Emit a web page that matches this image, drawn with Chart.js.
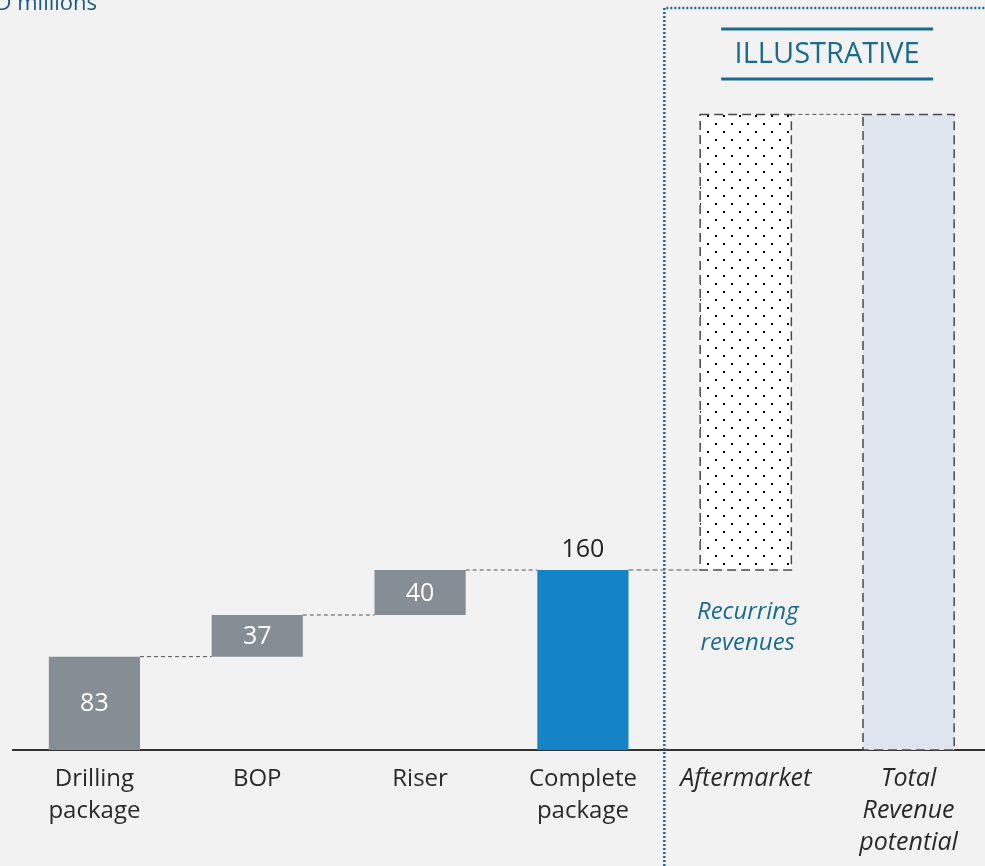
<!DOCTYPE html>
<html>
<head>
<meta charset="utf-8">
<script src="https://cdn.jsdelivr.net/npm/chart.js@4.4.1/dist/chart.umd.min.js"></script>
<style>
  html, body { margin: 0; padding: 0; background: #f2f2f2; overflow: hidden; }
  #wrap { width: 990px; height: 866px; }
</style>
</head>
<body>
<div id="wrap"><canvas id="cascada" width="990" height="866"></canvas></div>
<script>
// Categorías y valores (USD millones)
const categorias = [['Drilling', 'package'], 'BOP', 'Riser', ['Complete', 'package'], 'Aftermarket', ['Total', 'Revenue', 'potential']];
const valores = [83, 37, 40, 160, 405, 565];
const etiquetas = ['83', '37', '40', '160', '', ''];
// 'paso' suma sobre el anterior, 'total' arranca desde cero
const tipos = ['paso', 'paso', 'paso', 'total', 'paso', 'total'];

const FUENTE = "'Open Sans', sans-serif";
const GRIS = '#858e94';
const AZUL = '#1484c6';
const AZUL_OSCURO = '#1b6a91';

// Construir los tramos flotantes [inicio, fin]
let acumulado = 0;
const tramos = valores.map((v, i) => {
  if (tipos[i] === 'total') { acumulado = v; return [0, v]; }
  const inicio = acumulado;
  acumulado += v;
  return [inicio, acumulado];
});

// Trama de puntos para la barra de Aftermarket
function tramaPuntos() {
  const c = document.createElement('canvas');
  c.width = 16; c.height = 16;
  const g = c.getContext('2d');
  g.fillStyle = '#ffffff';
  g.fillRect(0, 0, 16, 16);
  g.fillStyle = '#000000';
  g.fillRect(3, 3, 2, 2);
  g.fillRect(11, 11, 2, 2);
  return g.createPattern(c, 'repeat');
}

const colores = [GRIS, GRIS, GRIS, AZUL, tramaPuntos(), '#dfe5ef'];

const extras = {
  id: 'extras',
  beforeDatasetsDraw(chart) {
    const ctx = chart.ctx;
    const x = chart.scales.x;
    // Título (parcialmente fuera del lienzo)
    ctx.save();
    ctx.font = '22px ' + FUENTE;
    ctx.fillStyle = '#1d5a80';
    ctx.textAlign = 'right';
    ctx.textBaseline = 'alphabetic';
    ctx.fillText('USD millions', 97, 10);
    ctx.restore();

    // Recuadro punteado de la zona ilustrativa
    const xDiv = (x.getPixelForValue(3) + x.getPixelForValue(4)) / 2;
    ctx.save();
    ctx.strokeStyle = AZUL_OSCURO;
    ctx.lineWidth = 2.5;
    ctx.setLineDash([2, 2]);
    ctx.beginPath();
    ctx.moveTo(xDiv, chart.height);
    ctx.lineTo(xDiv, 8);
    ctx.lineTo(chart.width, 8);
    ctx.stroke();
    ctx.restore();

    // Rótulo ILLUSTRATIVE entre dos líneas
    const xc = (x.getPixelForValue(4) + x.getPixelForValue(5)) / 2;
    ctx.save();
    ctx.strokeStyle = AZUL_OSCURO;
    ctx.lineWidth = 3;
    ctx.beginPath();
    ctx.moveTo(xc - 106, 29); ctx.lineTo(xc + 106, 29);
    ctx.moveTo(xc - 106, 79); ctx.lineTo(xc + 106, 79);
    ctx.stroke();
    ctx.fillStyle = AZUL_OSCURO;
    ctx.font = '29px ' + FUENTE;
    ctx.textAlign = 'center';
    ctx.textBaseline = 'middle';
    ctx.fillText('ILLUSTRATIVE', xc, 55);
    ctx.restore();
  },
  afterDatasetsDraw(chart) {
    const ctx = chart.ctx;
    const barras = chart.getDatasetMeta(0).data;
    const y = chart.scales.y;

    // Líneas de conexión entre barras
    ctx.save();
    for (let i = 0; i < barras.length - 1; i++) {
      const a = barras[i], b = barras[i + 1];
      const nivel = y.getPixelForValue(tramos[i][1]);
      ctx.strokeStyle = i === 3 ? '#8a8a8a' : '#555555';
      ctx.lineWidth = i === 3 ? 1.5 : 1;
      ctx.setLineDash(i === 3 ? [5, 3] : [4, 3]);
      ctx.beginPath();
      ctx.moveTo(a.x + a.width / 2, nivel);
      ctx.lineTo(b.x - b.width / 2, nivel);
      ctx.stroke();
    }
    ctx.restore();

    // Bordes discontinuos de las barras ilustrativas
    ctx.save();
    ctx.strokeStyle = '#4a4a4a';
    ctx.lineWidth = 1.5;
    ctx.setLineDash([9, 5]);
    [4, 5].forEach(i => {
      const b = barras[i];
      const top = Math.min(b.y, b.base), bot = Math.max(b.y, b.base);
      ctx.strokeRect(b.x - b.width / 2, top, b.width, bot - top);
    });
    ctx.restore();

    // Etiquetas de valor
    ctx.save();
    ctx.font = '25px ' + FUENTE;
    ctx.textAlign = 'center';
    ctx.textBaseline = 'middle';
    barras.forEach((b, i) => {
      if (!etiquetas[i]) return;
      if (tipos[i] === 'total') {
        ctx.fillStyle = '#222222';
        ctx.fillText(etiquetas[i], b.x, b.y - 20);
      } else {
        ctx.fillStyle = '#ffffff';
        ctx.fillText(etiquetas[i], b.x, (b.y + b.base) / 2 + 1);
      }
    });

    // Nota de ingresos recurrentes
    ctx.fillStyle = AZUL_OSCURO;
    ctx.font = 'italic 24px ' + FUENTE;
    const am = barras[4];
    ctx.fillText('Recurring', am.x + 2, 612);
    ctx.fillText('revenues', am.x + 2, 643);
    ctx.restore();
  }
};

document.addEventListener('DOMContentLoaded', function () {
  const ctx = document.getElementById('cascada').getContext('2d');
  new Chart(ctx, {
    type: 'bar',
    data: {
      labels: categorias,
      datasets: [{
        data: tramos,
        backgroundColor: colores,
        borderWidth: 0,
        borderSkipped: false,
        barPercentage: 0.56,
        categoryPercentage: 1
      }]
    },
    options: {
      responsive: false,
      animation: false,
      layout: { padding: { top: 75, left: 13, right: 0, bottom: 0 } },
      plugins: { legend: { display: false }, tooltip: { enabled: false } },
      scales: {
        x: {
          grid: { display: false, drawTicks: false },
          border: { display: true, color: '#333333', width: 2 },
          ticks: {
            color: '#2a2a2a',
            padding: 13,
            maxRotation: 0,
            autoSkip: false,
            font: (c) => c.index >= 4
              ? { family: FUENTE, size: 25, lineHeight: 1.28, style: 'italic' }
              : { family: FUENTE, size: 24, lineHeight: 1.33, style: 'normal' }
          },
          afterFit: (scale) => { scale.height = 116; }
        },
        y: {
          display: false,
          min: 0,
          max: 600
        }
      }
    },
    plugins: [extras]
  });
});
</script>
</body>
</html>
